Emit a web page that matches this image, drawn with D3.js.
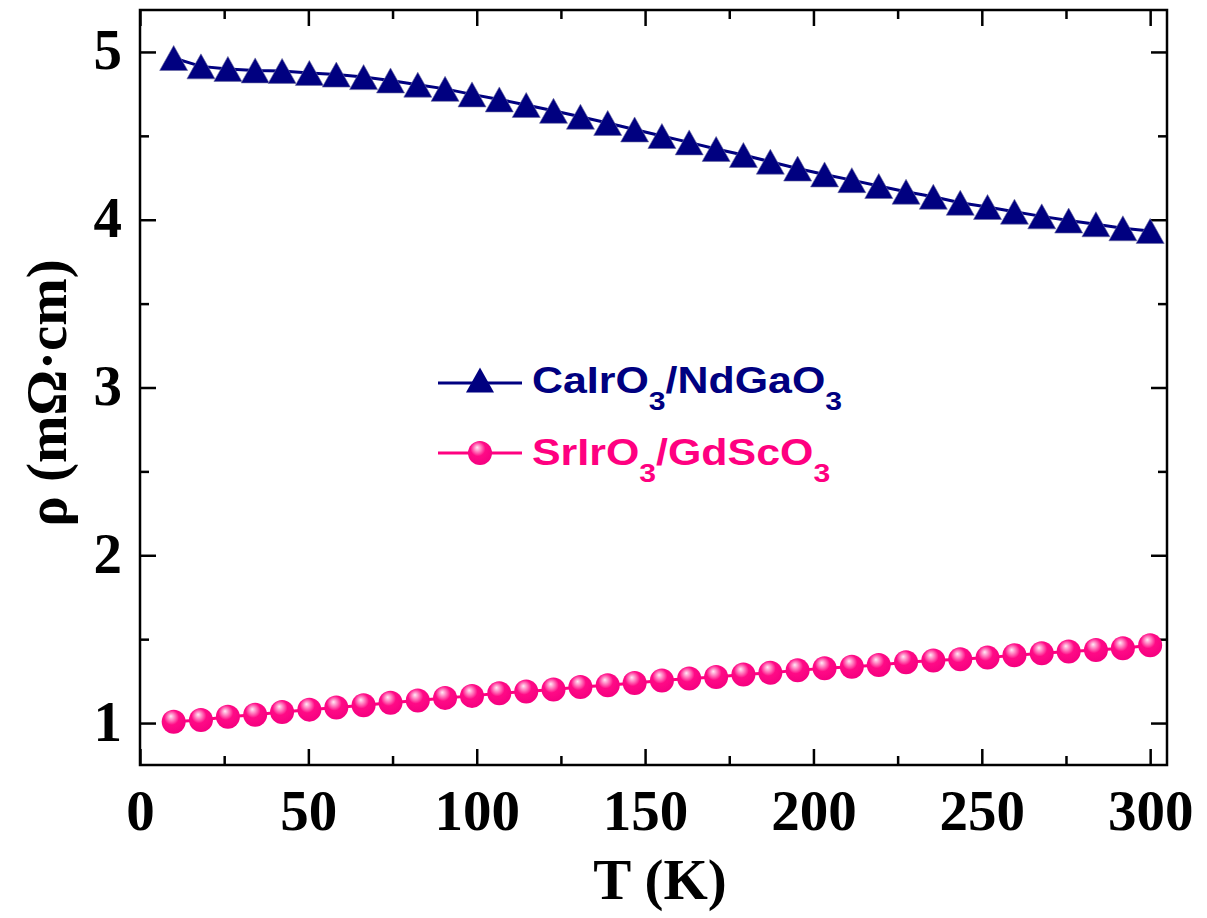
<!DOCTYPE html>
<html>
<head>
<meta charset="utf-8">
<script src="https://cdn.jsdelivr.net/npm/d3@7"></script>
<style>
  html, body { margin: 0; padding: 0; background: #fff; }
  svg { display: block; }
</style>
</head>
<body>
<svg id="chart" width="1207" height="918"></svg>
<script>
// ---- data ----
const temperatures = [10, 18.1, 26.1, 34.2, 42.2, 50.3, 58.3, 66.4, 74.4, 82.5, 90.6, 98.6,
  106.7, 114.7, 122.8, 130.8, 138.9, 146.9, 155, 163.1, 171.1, 179.2, 187.2, 195.3,
  203.3, 211.4, 219.4, 227.5, 235.6, 243.6, 251.7, 259.7, 267.8, 275.8, 283.9, 291.9, 300];
const rhoCaIrO3 = [4.964, 4.914, 4.899, 4.89, 4.887, 4.875, 4.865, 4.85, 4.83, 4.805, 4.78, 4.747,
  4.717, 4.684, 4.649, 4.614, 4.577, 4.538, 4.499, 4.461, 4.422, 4.386, 4.346, 4.305,
  4.27, 4.236, 4.201, 4.167, 4.137, 4.101, 4.076, 4.048, 4.02, 3.995, 3.973, 3.949, 3.933];
const rhoSrIrO3 = [1.008, 1.018, 1.038, 1.05, 1.066, 1.08, 1.093, 1.106, 1.121, 1.135, 1.15, 1.162,
  1.178, 1.188, 1.2, 1.215, 1.225, 1.239, 1.254, 1.265, 1.275, 1.289, 1.3, 1.314,
  1.326, 1.336, 1.346, 1.363, 1.373, 1.38, 1.39, 1.404, 1.416, 1.426, 1.436, 1.446, 1.464];
const seriesNames = ["CaIrO", "SrIrO"];
const xTicks = [0, 50, 100, 150, 200, 250, 300];
const xMinorTicks = [25, 75, 125, 175, 225, 275];
const yTicks = [1, 2, 3, 4, 5];
const yMinorTicks = [1.5, 2.5, 3.5, 4.5];
const xDomain = [0, 305];
const yDomain = [0.75, 5.25];

// ---- layout ----
const L = 140, R = 1167, T = 10, B = 765;
const navy = "#000080", pink = "#FF0080";
const svg = d3.select("#chart");
const x = d3.scaleLinear().domain(xDomain).range([L, R]);
const y = d3.scaleLinear().domain(yDomain).range([B, T]);

const defs = svg.append("defs");
const grad = defs.append("radialGradient").attr("id", "ball")
  .attr("cx", "0.45").attr("cy", "0.38").attr("r", "0.62")
  .attr("fx", "0.38").attr("fy", "0.27");
grad.append("stop").attr("offset", "0").attr("stop-color", "#ffeaf5");
grad.append("stop").attr("offset", "0.18").attr("stop-color", "#ff9acd");
grad.append("stop").attr("offset", "0.5").attr("stop-color", "#ff0a86");
grad.append("stop").attr("offset", "1").attr("stop-color", "#f50080");

const serif = "'Liberation Serif','Times New Roman',serif";
const sans = "'Liberation Sans',Arial,sans-serif";

// axes with inward ticks
const axisStyle = g => {
  g.select(".domain").remove();
  g.selectAll("line").attr("stroke", "#000").attr("stroke-width", 2.5);
  g.selectAll("text").attr("font-family", serif).attr("font-weight", "bold")
    .attr("font-size", 57).attr("fill", "#000");
};
// bottom
svg.append("g").attr("transform", `translate(0,${B})`)
  .call(d3.axisBottom(x).tickValues(xTicks).tickSize(-16).tickPadding(0).tickFormat(d3.format("d")))
  .call(axisStyle)
  .call(g => g.selectAll("text").attr("y", 65).attr("dy", 0));
svg.append("g").attr("transform", `translate(0,${B})`)
  .call(d3.axisBottom(x).tickValues(xMinorTicks).tickSize(-9).tickFormat(""))
  .call(axisStyle);
// top
svg.append("g").attr("transform", `translate(0,${T})`)
  .call(d3.axisTop(x).tickValues(xTicks).tickSize(-16).tickFormat(""))
  .call(axisStyle);
svg.append("g").attr("transform", `translate(0,${T})`)
  .call(d3.axisTop(x).tickValues(xMinorTicks).tickSize(-9).tickFormat(""))
  .call(axisStyle);
// left
svg.append("g").attr("transform", `translate(${L},0)`)
  .call(d3.axisLeft(y).tickValues(yTicks).tickSize(-16).tickFormat(d3.format("d")))
  .call(axisStyle)
  .call(g => g.selectAll("text").attr("x", -18).attr("dy", 0).attr("y", 17));
svg.append("g").attr("transform", `translate(${L},0)`)
  .call(d3.axisLeft(y).tickValues(yMinorTicks).tickSize(-9).tickFormat(""))
  .call(axisStyle);
// right
svg.append("g").attr("transform", `translate(${R},0)`)
  .call(d3.axisRight(y).tickValues(yTicks).tickSize(-16).tickFormat(""))
  .call(axisStyle);
svg.append("g").attr("transform", `translate(${R},0)`)
  .call(d3.axisRight(y).tickValues(yMinorTicks).tickSize(-9).tickFormat(""))
  .call(axisStyle);

// frame
svg.append("rect").attr("x", L).attr("y", T).attr("width", R - L).attr("height", B - T)
  .attr("fill", "none").attr("stroke", "#000").attr("stroke-width", 2.5);

// axis titles
svg.append("text").attr("x", 660).attr("y", 899).attr("text-anchor", "middle")
  .attr("font-family", serif).attr("font-weight", "bold").attr("font-size", 57)
  .text("T (K)");
svg.append("text").attr("transform", "translate(66,393) rotate(-90)").attr("text-anchor", "middle")
  .attr("font-family", serif).attr("font-weight", "bold").attr("font-size", 57)
  .text("ρ (mΩ·cm)");

// data
const dataA = temperatures.map((t, i) => ({t, v: rhoCaIrO3[i]}));
const dataB = temperatures.map((t, i) => ({t, v: rhoSrIrO3[i]}));
const line = d3.line().x(d => x(d.t)).y(d => y(d.v));

const tri = (cx, cy) => `M${cx},${cy - 12.5}L${cx + 14},${cy + 12.5}L${cx - 14},${cy + 12.5}Z`;

svg.append("path").datum(dataA).attr("d", line).attr("fill", "none")
  .attr("stroke", navy).attr("stroke-width", 3);
svg.append("g").selectAll("path").data(dataA).join("path")
  .attr("d", d => tri(x(d.t), y(d.v))).attr("fill", navy)
  .attr("stroke", "#6a6aa0").attr("stroke-width", 0.6);

svg.append("path").datum(dataB).attr("d", line).attr("fill", "none")
  .attr("stroke", pink).attr("stroke-width", 3);
svg.append("g").selectAll("circle").data(dataB).join("circle")
  .attr("cx", d => x(d.t)).attr("cy", d => y(d.v)).attr("r", 12)
  .attr("fill", "url(#ball)");

// legend
const leg = svg.append("g");
leg.append("line").attr("x1", 438).attr("x2", 522).attr("y1", 383).attr("y2", 383)
  .attr("stroke", navy).attr("stroke-width", 3);
leg.append("path").attr("d", tri(480, 380)).attr("fill", navy);
leg.append("line").attr("x1", 438).attr("x2", 522).attr("y1", 453).attr("y2", 453)
  .attr("stroke", pink).attr("stroke-width", 3);
leg.append("circle").attr("cx", 480).attr("cy", 453).attr("r", 12).attr("fill", "url(#ball)");

function legendText(px, py, parts, color) {
  const t = leg.append("text").attr("transform", `translate(${px},${py}) scale(1.16,1)`)
    .attr("font-family", sans).attr("font-weight", "bold").attr("font-size", 37).attr("fill", color);
  parts.forEach(p => {
    const s = t.append("tspan").text(p.s);
    if (p.sub) s.attr("font-size", 26).attr("dy", 17);
    else if (p.after) s.attr("dy", -17);
  });
}
legendText(532, 393, [
  {s: seriesNames[0]}, {s: "3", sub: true}, {s: "/NdGaO", after: true}, {s: "3", sub: true}
], navy);
legendText(532, 465, [
  {s: seriesNames[1]}, {s: "3", sub: true}, {s: "/GdScO", after: true}, {s: "3", sub: true}
], pink);
</script>
</body>
</html>
